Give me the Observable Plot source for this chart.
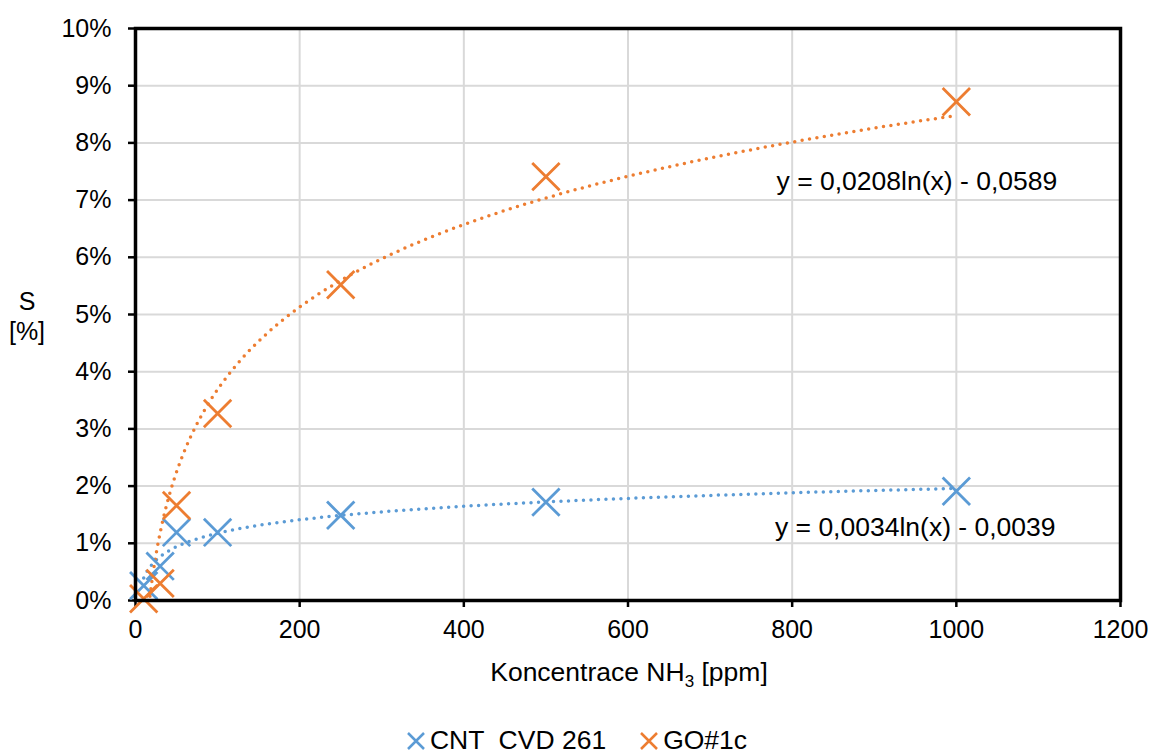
<!DOCTYPE html>
<html>
<head>
<meta charset="utf-8">
<script src="https://cdn.jsdelivr.net/npm/d3@7"></script>
<script src="https://cdn.jsdelivr.net/npm/@observablehq/plot@0.6"></script>
<style>
  body { margin: 0; background: #fff; font-family: "Liberation Sans", Arial, sans-serif; }
  #legend { display: flex; justify-content: center; gap: 32px; font-size: 26.5px; margin-top: 15px; white-space: pre; color: #000; line-height: 1; }
  #legend span { display: inline-flex; align-items: center; }
</style>
</head>
<body>
<div id="chart"></div>
<div id="legend"></div>
<script>
// Data
const concentrations = [10, 30, 50, 100, 250, 500, 1000];
const cntValues = [0.0026, 0.0060, 0.0119, 0.0119, 0.0149, 0.0172, 0.0191];
const goValues  = [0.0003, 0.0030, 0.0166, 0.0327, 0.0552, 0.0741, 0.0872];
const seriesNames = ["CNT  CVD 261", "GO#1c"];
const seriesColors = ["#5B9BD5", "#ED7D31"];
// Logarithmic trendline coefficients (y = a ln(x) + b) shown in the chart
const trendA = [0.0034, 0.0208];
const trendB = [-0.0039, -0.0589];
const trendLabels = ["y = 0,0034ln(x) - 0,0039", "y = 0,0208ln(x) - 0,0589"];
const xTicks = [0, 200, 400, 600, 800, 1000, 1200];
const yTicks = [0, 0.01, 0.02, 0.03, 0.04, 0.05, 0.06, 0.07, 0.08, 0.09, 0.1];

const points = [];
[cntValues, goValues].forEach((vals, s) => vals.forEach((v, i) => points.push({x: concentrations[i], y: v, series: seriesNames[s]})));

const trend = [];
for (let s = 0; s < 2; s++) {
  const xs = d3.range(10, 1000.001, 2);
  xs.forEach(x => trend.push({x, y: trendA[s] * Math.log(x) + trendB[s], series: seriesNames[s]}));
}

const color = {domain: seriesNames, range: seriesColors};
const tickFont = "25px";
const labelFont = "26.5px";

const chart = Plot.plot({
  width: 1152,
  height: 712,
  marginLeft: 135,
  marginRight: 32,
  marginTop: 28,
  marginBottom: 112,
  style: {fontFamily: "'Liberation Sans', Arial, sans-serif", fontSize: tickFont, color: "#000", background: "#fff"},
  x: {domain: [0, 1200], ticks: xTicks},
  y: {domain: [0, 0.1], ticks: yTicks},
  color,
  marks: [
    Plot.gridX(xTicks, {stroke: "#d9d9d9", strokeOpacity: 1, strokeWidth: 2}),
    Plot.gridY(yTicks, {stroke: "#d9d9d9", strokeOpacity: 1, strokeWidth: 2}),
    Plot.axisX(xTicks, {tickSize: 7, tickPadding: 13, strokeWidth: 2.5, label: null, fontSize: tickFont, tickFormat: d => String(d)}),
    Plot.axisY(yTicks, {tickSize: 7, tickPadding: 17, strokeWidth: 2.5, label: null, fontSize: tickFont, tickFormat: d => Math.round(d * 100) + "%"}),
    Plot.line(trend, {x: "x", y: "y", z: "series", stroke: "series", strokeWidth: 3.5, strokeDasharray: "0,7.5", strokeLinecap: "round", clip: true}),
    Plot.dot(points, {x: "x", y: "y", stroke: "series", symbol: "times", r: 12.5, strokeWidth: 2.8}),
    Plot.text([trendLabels[1]], {x: 781, y: 0.0733, text: d => d, textAnchor: "start", fontSize: labelFont}),
    Plot.text([trendLabels[0]], {x: 779, y: 0.0128, text: d => d, textAnchor: "start", fontSize: labelFont}),
    Plot.frame({stroke: "#000", strokeWidth: 3.5})
  ]
});
document.getElementById("chart").appendChild(chart);

// Axis titles (with subscript)
const svg = d3.select(chart);
const xl = svg.append("text").attr("x", 629).attr("y", 681).attr("text-anchor", "middle")
  .attr("font-size", labelFont).attr("fill", "#000");
xl.append("tspan").text("Koncentrace NH");
xl.append("tspan").attr("font-size", "17px").attr("dy", 6).text("3");
xl.append("tspan").attr("dy", -6).text(" [ppm]");
const yl = svg.append("text").attr("text-anchor", "middle").attr("font-size", tickFont).attr("fill", "#000");
yl.append("tspan").attr("x", 27).attr("y", 310).text("S");
yl.append("tspan").attr("x", 27).attr("y", 340).text("[%]");

// Legend
const legend = d3.select("#legend");
seriesNames.forEach((name, i) => {
  const item = legend.append("span");
  const s = item.append("svg").attr("width", 22).attr("height", 20).style("margin-right", "3px");
  s.append("path").attr("d", "M3,3L19,19M19,3L3,19").attr("stroke", seriesColors[i]).attr("stroke-width", 2.5);
  item.append("span").text(name);
});
</script>
</body>
</html>
